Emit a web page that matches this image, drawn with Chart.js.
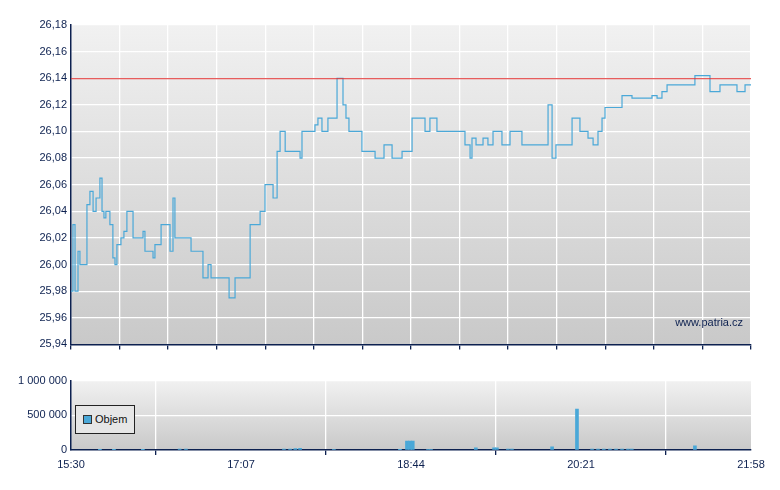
<!DOCTYPE html>
<html lang="en">
<head>
<meta charset="UTF-8" />
<title>Patria chart</title>
<style>
  body { margin: 0; background: #fff; width: 780px; height: 490px; position: relative; overflow: hidden; font-family: "Liberation Sans", sans-serif; }
  .legend { position: absolute; left: 75px; top: 405px; width: 58px; height: 27px; border: 1px solid #222; background: #e6e6e6; font-size: 11px; color: #111; line-height: 27px; }
  .legend i { display: inline-block; width: 7px; height: 7px; background: #4aa8d8; border: 1px solid #333; margin: 0 3px 0 7px; vertical-align: -1px; }
</style>
</head>
<body>
<div style="position:absolute;left:0;top:0;width:780px;height:355px"><canvas id="top"></canvas></div>
<div style="position:absolute;left:0;top:370px;width:780px;height:120px"><canvas id="bot"></canvas></div>
<div class="legend"><i></i>Objem</div>

<script src="https://cdn.jsdelivr.net/npm/chart.js"></script>
<script>
  // minutes after 15:30
  const priceTimes = [0,1.1,2.3,4,5.1,8.6,9.1,10.8,12.6,14.3,16.5,17.7,18.8,19.9,22.2,23.9,25.1,26.2,28.5,30.2,31.9,35.4,39.9,41.1,42.2,45.1,46.8,47.9,51.4,56.5,58.2,59.3,66.8,68.5,73.6,75.3,78.2,79.9,90.2,93.6,102.2,107.9,110.7,115.3,117.6,119.3,122.2,130.7,131.8,139.2,140.9,143.2,146.6,149.5,151.8,155.2,156.9,158.6,166,173.5,178.6,183.2,188.9,194.6,202,204.8,208.8,224.8,227.7,228.8,231.1,235.1,237.9,240.8,245.9,250.5,257.3,272.2,274.5,276.7,285.9,290.4,295,297.9,300.7,303,304.7,314.4,320.1,331.5,334.4,337.2,340.1,356,364.6,370.3,380,384.6,388];
  const prices = [25.98,26.03,25.98,26.01,26.00,26.00,26.045,26.055,26.04,26.05,26.065,26.04,26.035,26.04,26.03,26.005,26.00,26.015,26.02,26.025,26.04,26.02,26.02,26.025,26.01,26.01,26.005,26.015,26.03,26.01,26.05,26.02,26.02,26.01,26.01,25.99,26.00,25.99,25.975,25.99,26.03,26.04,26.06,26.05,26.085,26.10,26.085,26.08,26.10,26.105,26.11,26.10,26.11,26.11,26.14,26.12,26.11,26.10,26.085,26.08,26.09,26.08,26.085,26.11,26.10,26.11,26.10,26.09,26.08,26.095,26.09,26.095,26.09,26.10,26.09,26.10,26.09,26.12,26.08,26.09,26.11,26.10,26.095,26.09,26.10,26.11,26.118,26.127,26.125,26.127,26.125,26.13,26.135,26.142,26.13,26.135,26.13,26.135,26.135];
  const refPrice = 26.14;
  const volTimes = [16.5,24.5,41,62,65.6,121.5,125,128,130.7,150,187.7,191.7,193.4,195,203.7,205.4,231,241.4,243,249.3,251.6,274.5,288.7,297.3,300.7,304,307.5,311,314.4,317.8,320,356];
  const volumes = [3000,2000,2000,15000,15000,15000,15000,20000,25000,8000,5000,130000,130000,130000,10000,10000,30000,30000,30000,15000,15000,45000,590000,15000,15000,15000,15000,15000,15000,15000,15000,60000];
  const timeLabels = ['15:30','17:07','18:44','20:21','21:58'];
  const totalMin = 388;

  const navy = '#0d2150';
  const font = { family: 'Liberation Sans', size: 11 };

  const bgPlugin = {
    id: 'bg',
    beforeDraw(chart) {
      const a = chart.chartArea, c = chart.ctx;
      const g = c.createLinearGradient(0, a.top, 0, a.bottom);
      g.addColorStop(0, '#f1f1f1');
      g.addColorStop(1, '#c9c9c9');
      c.save(); c.fillStyle = g; c.fillRect(a.left, a.top, a.right - a.left, a.bottom - a.top); c.restore();
    }
  };
  const markPlugin = {
    id: 'mark',
    afterDatasetsDraw(chart) {
      const a = chart.chartArea, c = chart.ctx;
      const y = chart.scales.y.getPixelForValue(refPrice);
      c.save();
      c.strokeStyle = '#e03030'; c.lineWidth = 1;
      c.beginPath(); c.moveTo(a.left, y + 0.5); c.lineTo(a.right, y + 0.5); c.stroke();
      c.fillStyle = navy; c.font = '11px "Liberation Sans"'; c.textAlign = 'right';
      c.fillText('www.patria.cz', a.right - 8, a.bottom - 18);
      c.restore();
    }
  };

  const priceData = priceTimes.map((t, i) => ({ x: t, y: prices[i] }));
  const volData = volTimes.map((t, i) => ({ x: t, y: volumes[i] }));

  new Chart(document.getElementById('top'), {
    type: 'line',
    data: { datasets: [{ data: priceData, stepped: true, borderColor: '#4aa8d8', borderWidth: 1.2, pointRadius: 0 }] },
    options: {
      responsive: true, maintainAspectRatio: false, animation: false,
      layout: { padding: { top: 25, right: 29, left: 0, bottom: 0 } },
      plugins: { legend: { display: false }, tooltip: { enabled: false } },
      scales: {
        x: {
          type: 'linear', min: 0, max: totalMin,
          afterBuildTicks(s) { s.ticks = []; for (let i = 0; i <= 14; i++) s.ticks.push({ value: totalMin * i / 14 }); },
          afterFit(s) { s.height = 10; },
          ticks: { display: false },
          grid: { color: '#ffffff', lineWidth: 1.3, tickColor: navy, tickLength: 5 },
          border: { color: navy, width: 1.5 }
        },
        y: {
          min: 25.94, max: 26.18,
          afterFit(s) { s.width = 71; },
          ticks: { stepSize: 0.02, color: navy, font, padding: 4, callback: v => v.toFixed(2).replace('.', ',') },
          grid: { color: '#ffffff', lineWidth: 1.3, tickLength: 0 },
          border: { color: navy, width: 1.5 }
        }
      }
    },
    plugins: [bgPlugin, markPlugin]
  });

  new Chart(document.getElementById('bot'), {
    type: 'bar',
    data: { datasets: [{ data: volData, backgroundColor: '#4aa8d8', barThickness: 3 }] },
    options: {
      responsive: true, maintainAspectRatio: false, animation: false,
      layout: { padding: { top: 10, right: 29, left: 0, bottom: 0 } },
      plugins: { legend: { display: false }, tooltip: { enabled: false } },
      scales: {
        x: {
          type: 'linear', min: 0, max: totalMin, offset: false,
          afterBuildTicks(s) { s.ticks = timeLabels.map((l, i) => ({ value: 97 * i })); },
          afterFit(s) { s.height = 40; },
          ticks: { color: navy, font, maxRotation: 0, autoSkip: false, callback: (v, i) => timeLabels[i] },
          grid: { color: '#ffffff', lineWidth: 1.3, tickColor: navy, tickLength: 5 },
          border: { color: navy, width: 1.5 }
        },
        y: {
          min: 0, max: 1000000,
          afterFit(s) { s.width = 71; },
          ticks: { stepSize: 500000, color: navy, font, padding: 4, callback: v => v.toLocaleString('en-US').replace(/,/g, ' ') },
          grid: { color: '#ffffff', lineWidth: 1.3, tickLength: 0 },
          border: { color: navy, width: 1.5 }
        }
      }
    },
    plugins: [bgPlugin]
  });
</script>
</body>
</html>
